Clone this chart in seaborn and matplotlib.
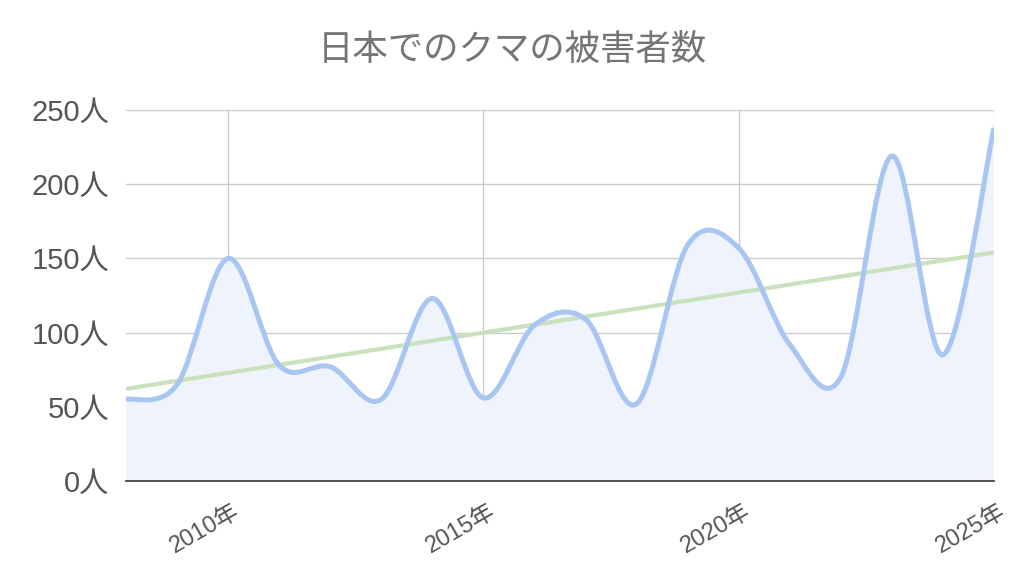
import numpy as np
import pandas as pd
import seaborn as sns
import matplotlib.pyplot as plt
from matplotlib.path import Path
from matplotlib.patches import PathPatch
from matplotlib.transforms import ScaledTranslation

# データ
years = [2008, 2009, 2010, 2011, 2012, 2013, 2014, 2015, 2016,
         2017, 2018, 2019, 2020, 2021, 2022, 2023, 2024, 2025]
victims = [55, 65, 150, 78, 77, 55, 123, 56, 105,
           109, 52, 159, 157, 92, 70, 219, 85, 238]
x_ticks = [2010, 2015, 2020, 2025]
x_tick_labels = ["2010年", "2015年", "2020年", "2025年"]
y_ticks = [0, 50, 100, 150, 200, 250]
y_tick_labels = [f"{v}人" for v in y_ticks]
title = "日本でのクマの被害者数"

df = pd.DataFrame({"year": years, "victims": victims})

sns.set_theme(style="white")
plt.rcParams['font.family'] = ['Liberation Sans', 'Noto Sans CJK JP', 'DejaVu Sans']

fig = plt.figure(figsize=(10.24, 5.75), dpi=100)
ax = fig.add_axes([126 / 1024, 94 / 575, 868 / 1024, 371 / 575])
ax.set_xlim(2008, 2025)
ax.set_ylim(0, 250)


def smooth_path(xs, ys, t=1 / 6):
    # Catmull-Rom 風のベジェ曲線
    pts = np.column_stack([xs, ys]).astype(float)
    n = len(pts)
    verts = [pts[0]]
    codes = [Path.MOVETO]
    for i in range(n - 1):
        p0 = pts[max(i - 1, 0)]
        p1 = pts[i]
        p2 = pts[i + 1]
        p3 = pts[min(i + 2, n - 1)]
        c1 = p1 + (p2 - p0) * t
        c2 = p2 - (p3 - p1) * t
        verts += [c1, c2, p2]
        codes += [Path.CURVE4] * 3
    return verts, codes


verts, codes = smooth_path(df["year"], df["victims"])

# 塗りつぶし
fill_verts = verts + [(years[-1], 0), (years[0], 0), verts[0]]
fill_codes = codes + [Path.LINETO, Path.LINETO, Path.CLOSEPOLY]
ax.add_patch(PathPatch(Path(fill_verts, fill_codes), facecolor="#eef3fc",
                       edgecolor="none", zorder=1))

# トレンドライン
sns.regplot(data=df, x="year", y="victims", scatter=False, ci=None,
            truncate=False, ax=ax,
            line_kws={"color": "#c9e2bd", "lw": 3.0, "zorder": 2,
                      "solid_capstyle": "butt"})

# 曲線
ax.add_patch(PathPatch(Path(verts, codes), facecolor="none",
                       edgecolor="#a9c5f2", lw=3.6, zorder=3,
                       capstyle="butt"))

ax.set_xlim(2008, 2025)
ax.set_ylim(0, 250)

ax.set_xticks(x_ticks)
ax.set_xticklabels(x_tick_labels, rotation=30, ha="right", va="center",
                   rotation_mode="anchor", fontsize=17, color="#555555")
ax.set_yticks(y_ticks)
ax.set_yticklabels(y_tick_labels, fontsize=21, color="#555555")
ax.tick_params(axis="both", length=0)
ax.tick_params(axis="y", pad=12)
ax.tick_params(axis="x", pad=21)
offset = ScaledTranslation(10 / 100, 0, fig.dpi_scale_trans)
for lbl in ax.get_xticklabels():
    lbl.set_transform(lbl.get_transform() + offset)

ax.grid(True, color="#cccccc", lw=1, zorder=0)
ax.set_axisbelow(True)
for side in ["top", "right", "left"]:
    ax.spines[side].set_visible(False)
ax.spines["bottom"].set_color("#333333")
ax.spines["bottom"].set_linewidth(1.2)
ax.spines["bottom"].set_zorder(5)

ax.set_xlabel("")
ax.set_ylabel("")

fig.text(0.5, 1 - 50 / 575, title, ha="center", va="center",
         fontsize=25.5, color="#757575",
         family=['Noto Sans CJK JP', 'DejaVu Sans'])

fig.savefig("out.png", dpi=100)
